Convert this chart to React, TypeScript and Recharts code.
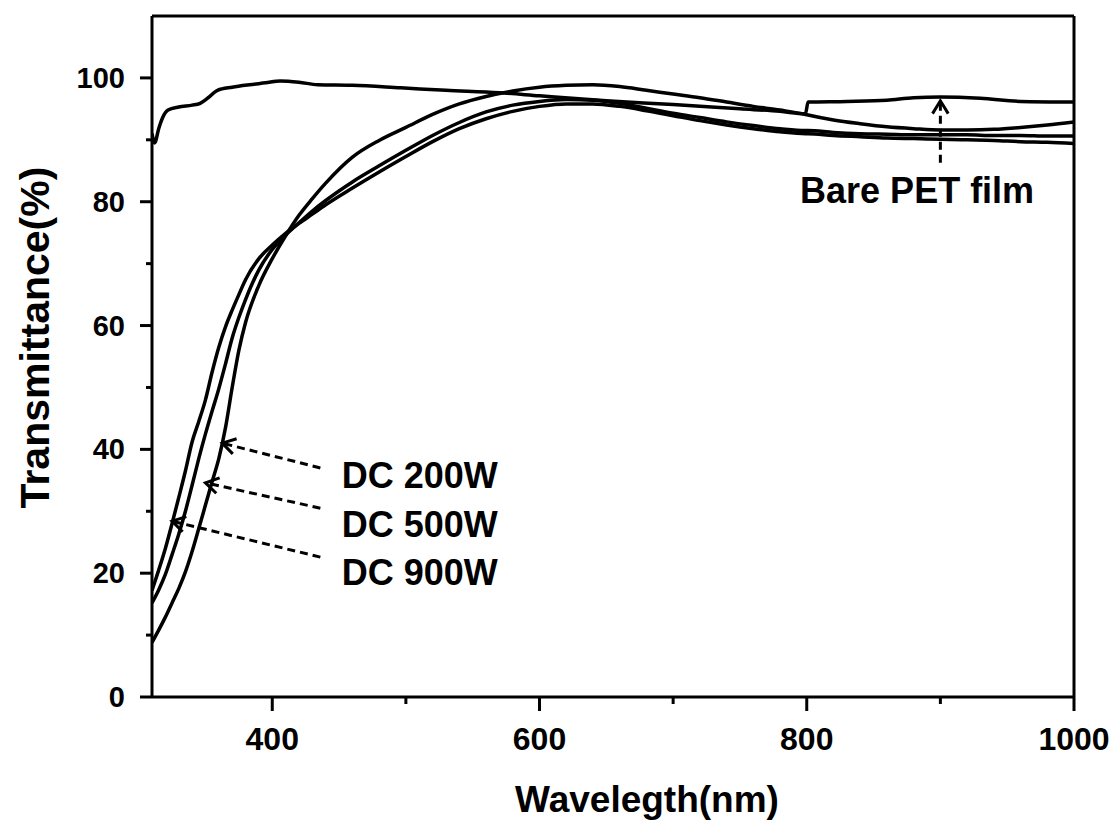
import React from 'react';
import { LineChart, Line, XAxis, YAxis, ReferenceLine, ReferenceDot, Label } from 'recharts';

const FONT = '"Liberation Sans", Arial, sans-serif';

// wavelength grid (nm) shared by the three DC sputtered films
const dcWl = [310, 315, 320, 325, 330, 335, 340, 345, 350, 355, 360, 365, 370, 375, 380, 390, 400, 410, 420, 430, 440, 460, 480, 500, 520, 540, 560, 580, 600, 620, 640, 660, 680, 700, 720, 740, 760, 780, 799, 801, 820, 840, 860, 880, 900, 920, 940, 960, 980, 1000];
const dc200 = [8.8, 10.8, 12.9, 15.2, 17.5, 20.2, 23.5, 27.2, 31, 34.8, 38.5, 43.5, 50, 56, 60.5, 66.5, 70.8, 74.5, 77.8, 80.5, 83, 87.2, 89.9, 92.0, 94.1, 95.8, 97.0, 97.9, 98.5, 98.8, 98.9, 98.6, 98.0, 97.4, 96.8, 96.1, 95.4, 94.8, 94.1, 94.0, 93.2, 92.6, 92.1, 91.8, 91.6, 91.6, 91.7, 92.0, 92.4, 92.9];
const dc500 = [15.2, 17.3, 19.8, 23, 26.3, 30, 34.2, 38.5, 42.5, 46.2, 49.8, 53.8, 58, 61.3, 64.2, 69, 72.3, 74.6, 76.6, 78.5, 80.2, 83.2, 85.8, 88.3, 90.7, 92.8, 94.5, 95.6, 96.2, 96.5, 96.4, 95.9, 95.1, 94.3, 93.6, 92.9, 92.3, 91.8, 91.5, 91.5, 91.2, 91.0, 90.9, 90.8, 90.8, 90.8, 90.7, 90.7, 90.6, 90.6];
const dc900 = [17.2, 20.5, 24, 28, 32.2, 36.5, 41.2, 44.5, 48, 52.5, 56.5, 59.8, 62.5, 65, 67.4, 70.8, 73.0, 74.9, 76.5, 78, 79.5, 82.2, 84.8, 87.3, 89.7, 91.8, 93.4, 94.6, 95.4, 95.8, 95.8, 95.4, 94.7, 93.9, 93.1, 92.4, 91.8, 91.3, 91.0, 91.0, 90.7, 90.5, 90.3, 90.2, 90.1, 90.0, 89.9, 89.7, 89.6, 89.4];

// bare PET substrate
const petWl = [310, 312, 315, 318, 322, 330, 340, 346, 352, 359, 370, 383, 395, 406, 420, 434, 460, 496, 530, 570, 600, 650, 700, 750, 780, 799, 801, 830, 860, 880, 900, 930, 960, 1000];
const petT = [91, 89.5, 91.8, 93.6, 94.8, 95.3, 95.6, 95.9, 96.8, 98, 98.5, 98.9, 99.2, 99.5, 99.3, 98.9, 98.8, 98.4, 98.0, 97.6, 97.1, 96.3, 95.7, 95.0, 94.6, 94.2, 96.1, 96.2, 96.4, 96.8, 96.9, 96.7, 96.2, 96.1];

const xTicks = [400, 500, 600, 700, 800, 900, 1000];
const xMajor = [400, 600, 800, 1000];
const yTicks = [0, 10, 20, 30, 40, 50, 60, 70, 80, 90, 100];
const yMajor = [0, 20, 40, 60, 80, 100];

const labels = [
  { text: 'Bare PET film', w: 795, t: 79.8 },
  { text: 'DC 200W', w: 452, t: 33.8 },
  { text: 'DC 500W', w: 452, t: 25.8 },
  { text: 'DC 900W', w: 452, t: 18.1 },
];

const arrows = [
  { x1: 900, y1: 86.3, x2: 900, y2: 96.3 },
  { x1: 436, y1: 37.0, x2: 362.6, y2: 41.0 },
  { x1: 436, y1: 30.5, x2: 350, y2: 34.6 },
  { x1: 436, y1: 22.6, x2: 325, y2: 28.4 },
];

const toRows = (wl: number[], t: number[]) => wl.map((w, i) => ({ w, t: t[i] }));

const XTick = ({ x, y, payload }: any) => {
  const major = xMajor.includes(payload.value);
  return (
    <g>
      <line x1={x} x2={x} y1={y} y2={y + (major ? 14 : 7)} stroke="#000" strokeWidth={3} />
      {major && (
        <text x={x} y={y + 53} textAnchor="middle" fontSize={32} fontWeight="bold" fontFamily={FONT} fill="#000">
          {payload.value}
        </text>
      )}
    </g>
  );
};

const YTick = ({ x, y, payload }: any) => {
  const major = yMajor.includes(payload.value);
  return (
    <g>
      <line x1={x - (major ? 12 : 6)} x2={x} y1={y} y2={y} stroke="#000" strokeWidth={3} />
      {major && (
        <text x={x - 27} y={y + 10} textAnchor="end" fontSize={29} fontWeight="bold" fontFamily={FONT} fill="#000">
          {payload.value}
        </text>
      )}
    </g>
  );
};

const ArrowShape = (props: any) => {
  const { x1, y1, x2, y2 } = props;
  const ang = Math.atan2(y2 - y1, x2 - x1);
  const L = 15;
  const s = 0.55;
  const p1 = `${x2 - L * Math.cos(ang - s)},${y2 - L * Math.sin(ang - s)}`;
  const p2 = `${x2 - L * Math.cos(ang + s)},${y2 - L * Math.sin(ang + s)}`;
  return (
    <g>
      <line x1={x1} y1={y1} x2={x2} y2={y2} stroke="#000" strokeWidth={3} strokeDasharray="8 5" />
      <polyline points={`${p1} ${x2},${y2} ${p2}`} fill="none" stroke="#000" strokeWidth={3} />
    </g>
  );
};

const YLabel = ({ viewBox }: any) => (
  <text
    x={viewBox.x + viewBox.width - 103}
    y={viewBox.y + viewBox.height / 2 - 19}
    transform={`rotate(-90 ${viewBox.x + viewBox.width - 103} ${viewBox.y + viewBox.height / 2 - 19})`}
    textAnchor="middle"
    fontSize={41}
    fontWeight="bold"
    fontFamily={FONT}
    fill="#000"
  >
    Transmittance(%)
  </text>
);

const XLabel = ({ viewBox }: any) => (
  <text
    x={viewBox.x + viewBox.width / 2 + 34}
    y={viewBox.y + 115}
    textAnchor="middle"
    fontSize={37}
    fontWeight="bold"
    fontFamily={FONT}
    fill="#000"
  >
    Wavelegth(nm)
  </text>
);

export default function App() {
  const series = [
    toRows(dcWl, dc200),
    toRows(dcWl, dc500),
    toRows(dcWl, dc900),
    toRows(petWl, petT),
  ];
  return (
    <div style={{ position: 'absolute', left: 0, top: 0, background: '#fff' }}>
      <LineChart width={1112} height={831} margin={{ top: 16, right: 38, bottom: 0, left: 0 }}>
        <XAxis
          dataKey="w"
          type="number"
          domain={[310, 1000]}
          allowDataOverflow
          ticks={xTicks}
          interval={0}
          height={134}
          tickSize={0}
          tickMargin={0}
          tickLine={false}
          tick={<XTick />}
          axisLine={{ stroke: '#000', strokeWidth: 3 }}
        >
          <Label content={<XLabel />} />
        </XAxis>
        <YAxis
          type="number"
          domain={[0, 110]}
          allowDataOverflow
          ticks={yTicks}
          interval={0}
          width={152}
          tickSize={0}
          tickMargin={0}
          tickLine={false}
          tick={<YTick />}
          axisLine={{ stroke: '#000', strokeWidth: 3 }}
        >
          <Label content={<YLabel />} />
        </YAxis>
        <ReferenceLine y={110} stroke="#000" strokeWidth={3} ifOverflow="visible" />
        <ReferenceLine x={1000} stroke="#000" strokeWidth={3} ifOverflow="visible" />
        {series.map((rows, i) => (
          <Line
            key={i}
            data={rows}
            dataKey="t"
            type="monotone"
            stroke="#000"
            strokeWidth={3.5}
            dot={false}
            isAnimationActive={false}
          />
        ))}
        {arrows.map((a, i) => (
          <ReferenceLine
            key={`a${i}`}
            segment={[{ x: a.x1, y: a.y1 }, { x: a.x2, y: a.y2 }]}
            ifOverflow="visible"
            shape={ArrowShape}
          />
        ))}
        {labels.map((l, i) => (
          <ReferenceDot
            key={`l${i}`}
            x={l.w}
            y={l.t}
            r={0}
            ifOverflow="visible"
            shape={(p: any) => (
              <text x={p.cx} y={p.cy} fontSize={36} fontWeight="bold" fontFamily={FONT} fill="#000">
                {l.text}
              </text>
            )}
          />
        ))}
      </LineChart>
    </div>
  );
}
